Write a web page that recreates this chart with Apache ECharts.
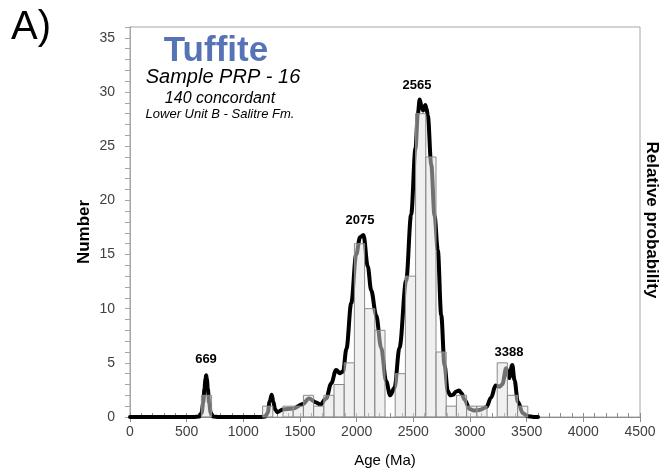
<!DOCTYPE html>
<html>
<head>
<meta charset="utf-8">
<script src="https://cdn.jsdelivr.net/npm/echarts@6/dist/echarts.min.js"></script>
<style>
html,body{margin:0;padding:0;background:#fff;}
#chart{width:666px;height:472px;}
</style>
</head>
<body>
<div id="chart"></div>
<script>
// ---- Data ----
const binWidth = 90; // Ma
const binStarts = [630, 1170, 1260, 1350, 1440, 1530, 1620, 1710, 1800, 1890, 1980, 2070, 2160, 2250, 2340, 2430, 2520, 2610, 2700, 2790, 2880, 2970, 3060, 3150, 3240, 3330, 3420];
const binCounts = [2, 1, 0, 1, 1, 2, 1, 2, 3, 5, 16, 10, 8, 0, 4, 13, 28, 24, 6, 1, 2, 1, 1, 0, 5, 2, 1];

// Relative probability curve (scaled to the count axis)
const curveAge = [0, 560, 612, 632, 646, 657, 666, 672, 678, 687, 698, 712, 732, 785,
  1150, 1195, 1215, 1232, 1250, 1265, 1280, 1300, 1348, 1437, 1525, 1578, 1643, 1678, 1731, 1775, 1819, 1850, 1880, 1910, 1952, 1996, 2030, 2060,
  2098, 2128, 2172, 2216, 2260, 2296, 2334, 2378, 2437, 2481, 2519, 2540, 2556, 2572, 2586, 2606, 2616, 2628, 2658, 2687, 2716, 2746, 2775, 2804,
  2825, 2850, 2878, 2903, 2925, 2952, 2996, 3030, 3084, 3143, 3187, 3225, 3260, 3285, 3319, 3345, 3373, 3393, 3422, 3466, 3510, 3560, 3600];
const curveProb = [0, 0, 0.05, 0.4, 1.3, 2.6, 3.5, 3.85, 3.5, 2.6, 1.3, 0.4, 0.05, 0,
  0, 0.05, 0.4, 1.4, 2.05, 1.4, 0.7, 0.45, 0.7, 0.78, 1.2, 1.7, 1.35, 1.15, 1.7, 3.1, 4.35, 4.05, 4.2, 6.3, 10.5, 15.0, 16.6, 16.8,
  13.9, 11.7, 9.4, 6.4, 3.3, 2.0, 2.7, 6.4, 12.6, 18.7, 24.8, 28.0, 29.3, 28.7, 28.3, 28.8, 28.5, 27.8, 23.3, 18.6, 15.4, 9.4, 4.8, 2.4,
  2.0, 2.05, 2.35, 2.45, 2.2, 1.6, 0.75, 0.6, 0.65, 0.9, 1.8, 2.9, 2.8, 3.0, 4.5, 3.6, 4.8, 3.4, 1.4, 0.35, 0.08, 0.01, 0];

const peakLabels = ['669', '2075', '2565', '3388'];
const xTicks = [0, 500, 1000, 1500, 2000, 2500, 3000, 3500, 4000, 4500];
const yTicks = [0, 5, 10, 15, 20, 25, 30, 35];

// ---- Chart ----
const chart = echarts.init(document.getElementById('chart'), null, {renderer: 'canvas'});
const FONT = '"Liberation Sans", Arial, sans-serif';

const barData = binStarts.map((s, i) => [s, s + binWidth, binCounts[i]]).filter(d => d[2] > 0);
const curveData = curveAge.map((a, i) => [a, curveProb[i]]);

const labelPos = [[206, 359], [360, 220], [417, 85], [509, 352]];

const option = {
  animation: false,
  backgroundColor: '#fff',
  grid: {left: 130, right: 26, top: 27, bottom: 55, show: true, borderColor: '#a6a6a6', borderWidth: 1},
  xAxis: [{
    type: 'value', min: xTicks[0], max: xTicks[xTicks.length - 1], interval: xTicks[1] - xTicks[0],
    position: 'bottom',
    axisLine: {lineStyle: {color: '#8c8c8c', width: 1}},
    axisTick: {show: true, length: 5, lineStyle: {color: '#8c8c8c'}},
    axisLabel: {color: '#404040', fontSize: 14, fontFamily: FONT, margin: 8, formatter: v => String(v)},
    splitLine: {show: false}
  }, {
    type: 'value', min: 0, max: 4500, interval: 100, position: 'bottom',
    axisLine: {show: false},
    axisTick: {show: true, inside: true, length: 4, lineStyle: {color: '#8c8c8c'}},
    axisLabel: {show: false},
    splitLine: {show: false}
  }],
  yAxis: [{
    type: 'value', min: 0, max: 36, interval: 1, position: 'left',
    axisLine: {show: true, lineStyle: {color: '#a6a6a6'}},
    axisTick: {show: true, length: 5, lineStyle: {color: '#a6a6a6'}},
    axisLabel: {color: '#404040', fontSize: 14, fontFamily: FONT, margin: 15,
      formatter: v => (yTicks.indexOf(v) >= 0 ? String(v) : '')},
    splitLine: {show: false}
  }, {
    type: 'value', min: 0, max: 36, position: 'right',
    axisLine: {show: true, lineStyle: {color: '#a6a6a6'}},
    axisTick: {show: false}, axisLabel: {show: false}, splitLine: {show: false}
  }],
  series: [{
    type: 'line', name: 'Relative probability', xAxisIndex: 0, yAxisIndex: 1,
    data: curveData, showSymbol: false, smooth: 0.35, smoothMonotone: 'x',
    lineStyle: {color: '#000', width: 4, cap: 'round', join: 'round'},
    z: 2
  }, {
    type: 'custom', name: 'Number', xAxisIndex: 0, yAxisIndex: 0,
    data: barData, encode: {x: [0, 1], y: 2},
    renderItem: function (params, api) {
      const p0 = api.coord([api.value(0), api.value(2)]);
      const p1 = api.coord([api.value(1), 0]);
      return {type: 'rect', shape: {x: p0[0], y: p0[1], width: p1[0] - p0[0], height: p1[1] - p0[1]},
        style: {fill: 'rgba(225,225,225,0.5)', stroke: '#8a8a8a', lineWidth: 1}};
    },
    z: 3
  }],
  graphic: [
    {type: 'text', left: 11, top: 8, style: {text: 'A)', font: '40px ' + FONT, fill: '#000'}},
    {type: 'text', x: 216, y: 51, style: {text: 'Tuffite', font: 'bold 35px ' + FONT, fill: '#5673b6', align: 'center', verticalAlign: 'middle'}},
    {type: 'text', x: 223, y: 77, style: {text: 'Sample PRP - 16', font: 'italic 20px ' + FONT, fill: '#000', align: 'center', verticalAlign: 'middle'}},
    {type: 'text', x: 220, y: 99, style: {text: '140 concordant', font: 'italic 16px ' + FONT, fill: '#000', align: 'center', verticalAlign: 'middle'}},
    {type: 'text', x: 220, y: 114, style: {text: 'Lower Unit B - Salitre Fm.', font: 'italic 13px ' + FONT, fill: '#000', align: 'center', verticalAlign: 'middle'}},
    {type: 'text', x: 84, y: 232, rotation: Math.PI / 2, style: {text: 'Number', font: 'bold 17px ' + FONT, fill: '#000', align: 'center', verticalAlign: 'middle'}},
    {type: 'text', x: 652, y: 220, rotation: -Math.PI / 2, style: {text: 'Relative probability', font: 'bold 17px ' + FONT, fill: '#000', align: 'center', verticalAlign: 'middle'}},
    {type: 'text', x: 385, y: 461, style: {text: 'Age (Ma)', font: '15px ' + FONT, fill: '#000', align: 'center', verticalAlign: 'middle'}}
  ].concat(peakLabels.map((t, i) => ({
    type: 'text', x: labelPos[i][0], y: labelPos[i][1], z: 10,
    style: {text: t, font: 'bold 13px ' + FONT, fill: '#000', align: 'center', verticalAlign: 'middle'}
  })))
};
chart.setOption(option);
</script>
</body>
</html>
